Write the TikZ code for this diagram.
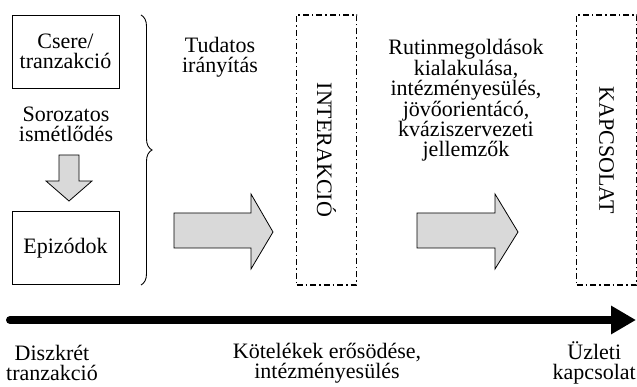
\documentclass[tikz,border=0pt]{standalone}
\usepackage{fontspec}
\setmainfont{Liberation Serif}
\usetikzlibrary{arrows.meta,decorations.pathreplacing}

\tikzset{
  doboz/.style={draw, line width=0.9pt, minimum width=107pt, minimum height=73pt, align=center},
  szakasz/.style={draw, line width=1.3pt, dash pattern=on 6pt off 3pt on 1.5pt off 3pt, minimum width=60pt, minimum height=270pt},
  felirat/.style={align=center, inner sep=0pt},
  nyil/.style={draw, line width=0.8pt, fill=black!15}
}

\begin{document}
\begin{tikzpicture}[x=1pt, y=-1pt, font=\fontsize{22}{20}\selectfont]
        \useasboundingbox (0,0) rectangle (637,387);

        \node[doboz] (csere) at (65.5,51.5) {Csere/\\tranzakció};
        \node[doboz] (epizod) at (65.5,248) {Epizódok};
        \node[felirat] (soroz) at (66,124) {Sorozatos\\ismétlődés};
        \node[felirat] (tudatos) at (220,57) {Tudatos\\irányítás};

        \node[szakasz] (interakcio) at (326.5,150) {};
        \node[rotate=-90] at (interakcio) {INTERAKCIÓ};
        \node[szakasz] (kapcsolat) at (606.5,150) {};
        \node[rotate=-90] at (kapcsolat) {KAPCSOLAT};

        \node[felirat] (rutin) at (466,100) {Rutinmegoldások\\kialakulása,\\intézményesülés,\\jövőorientácó,\\kváziszervezeti\\jellemzők};

        % block arrows
        \draw[nyil] (59,155) -- (79,155) -- (79,181) -- (92,181) -- (69,201)
                    -- (46,181) -- (59,181) -- cycle;
        \draw[nyil] (174,213) -- (251,213) -- (251,194) -- (273,232) -- (251,269)
                    -- (251,248) -- (174,248) -- cycle;
        \draw[nyil] (417,213) -- (495,213) -- (495,194) -- (518,232) -- (495,269)
                    -- (495,248) -- (417,248) -- cycle;

        % brace
        \draw[line width=0.9pt, decorate, decoration={brace, amplitude=11pt}]
              (141,15) -- (141,285);

        % time axis
        \coordinate (kezd) at (10,320);
        \coordinate (veg) at (636,320);
        \draw[line width=8pt, line cap=round, -{Triangle[length=25pt, width=27pt]}] (kezd) -- (veg);

        \node[felirat] (diszkret) at (52,363) {Diszkrét\\tranzakció};
        \node[felirat] (kotelek) at (327,363) {Kötelékek erősödése,\\intézményesülés};
        \node[felirat, anchor=east] (uzleti) at (636,363) {Üzleti\\kapcsolat};
      \end{tikzpicture}
\end{document}
